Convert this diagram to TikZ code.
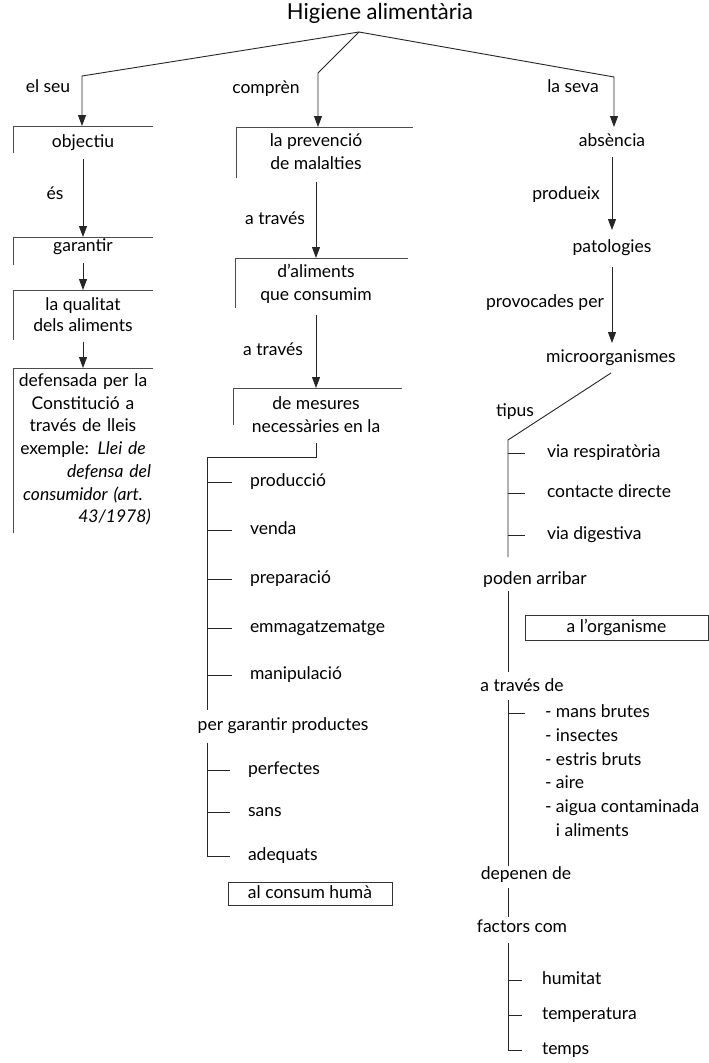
\documentclass[tikz,border=0pt]{standalone}
\usepackage{fontspec}
\setmainfont{Lato}
\usetikzlibrary{arrows.meta}
\newcommand{\firstln}{\rule{0pt}{13pt}}
\begin{document}
\begin{tikzpicture}[x=1pt,y=-1pt,
  every node/.style={inner sep=0pt, outer sep=0pt, font=\fontsize{17.5}{22.7}\selectfont},
  lbl/.style={anchor=center, text height=12.5pt, text depth=3.5pt},
  ml/.style={anchor=north, align=center},
  ln/.style={draw=black!85, line width=0.9pt},
  side/.style={draw=black!70, line width=0.8pt},
  arr/.style={ln, -{Triangle[length=11pt,width=8pt]}},
]
\useasboundingbox[fill=white] (0,0) rectangle (709,1063);

% ---------- title and main branches ----------
\node[lbl, font=\fontsize{22}{26}\selectfont] (title) at (380,15) {Higiene alimentària};
\coordinate (apex) at (359,32);
\coordinate (cL) at (82,76);
\coordinate (cM) at (318,73);
\coordinate (cR) at (614,77);
\node[lbl] (elseu) at (48,88) {el seu};
\node[lbl] (compren) at (266,89) {comprèn};
\node[lbl] (laseva) at (573,88) {la seva};

% ---------- left column ----------
\coordinate (objTop) at (82,126);
\draw[arr] (apex) -- (cL) -- (objTop);
\draw[side] (13,153) -- (13,126) -- (153,126);
\node[lbl] (objectiu) at (83,143) {objectiu};

\node[lbl] (es) at (55,195) {és};
\coordinate (garTop) at (83,237);
\draw[arr, shorten <=8pt] (objectiu.south) -- (garTop);
\draw[side] (13,265) -- (13,237) -- (153,237);
\node[lbl] (garantir) at (83,247) {garantir};

\coordinate (qualTop) at (83,290);
\draw[arr, shorten <=8pt] (garantir.south) -- (qualTop);
\draw[side] (13,340) -- (13,290) -- (153,290);
\node[ml, font=\fontsize{17.5}{21}\selectfont] (qualitat) at (83,297.5) {\firstln la qualitat\\dels aliments};

\coordinate (defTop) at (83,368);
\draw[arr, shorten <=10pt] (qualitat.south) -- (defTop);
\draw[side] (13,533) -- (13,368) -- (153,368);
\node[ml, text width=136pt] (defensada) at (83,373.5)
  {\firstln defensada per la\\
   Constitució a\\
   través de lleis\\
   exemple: \textit{Llei de}\\
   \hspace*{\fill}\textit{defensa del}\\
   \textit{consumidor (art.}\\
   \hspace*{\fill}\textit{43/1978)}};

% ---------- middle column ----------
\coordinate (prevTop) at (318,127);
\draw[arr] (apex) -- (cM) -- (prevTop);
\draw[side] (236,178) -- (236,127) -- (413,127);
\node[ml] (prevencio) at (316,133.5) {\firstln la prevenció\\de malalties};

\node[lbl] (atraves1) at (275,220) {a través};
\coordinate (aliTop) at (316,258);
\draw[arr, shorten <=13pt] (prevencio.south) -- (aliTop);
\draw[side] (235,308) -- (235,258) -- (408,258);
\node[ml] (aliments) at (316,264.5) {\firstln d’aliments\\que consumim};

\node[lbl] (atraves2) at (273,351) {a través};
\coordinate (mesTop) at (316,388);
\draw[arr, shorten <=11pt] (aliments.south) -- (mesTop);
\draw[side] (233,425) -- (233,388) -- (402,388);
\node[ml] (mesures) at (316,396.5) {\firstln de mesures\\necessàries en la};

\coordinate (bM) at (207,457);
\node[lbl] (pergarantir) at (283,726) {per garantir productes};
\draw[ln, shorten <=11pt, shorten >=8pt] (mesures.south) -- (mesures.south |- bM) -- (bM) -- (bM |- pergarantir.north);

\node[lbl, anchor=west] (produccio) at (250,482) {producció};
\node[lbl, anchor=west] (venda) at (250,530) {venda};
\node[lbl, anchor=west] (preparacio) at (250,579) {preparació};
\node[lbl, anchor=west] (emmag) at (250,628) {emmagatzematge};
\node[lbl, anchor=west] (manip) at (250,675) {manipulació};
\foreach \n in {produccio,venda,preparacio,emmag,manip}
  \draw[ln, shorten >=18pt] (bM |- \n.west) -- (\n.west);

\node[lbl, anchor=west] (perfectes) at (248,770) {perfectes};
\node[lbl, anchor=west] (sans) at (248,812) {sans};
\node[lbl, anchor=west] (adequats) at (248,856) {adequats};
\draw[ln, shorten <=9pt, shorten >=18pt] (bM |- pergarantir.south) -- (bM |- adequats.west) -- (adequats.west);
\foreach \n in {perfectes,sans}
  \draw[ln, shorten >=18pt] (bM |- \n.west) -- (\n.west);

\node[lbl, draw=black!80, line width=0.8pt, inner xsep=20pt, inner ysep=3.5pt] (consum) at (310,893.5) {al consum humà};

% ---------- right column ----------
\coordinate (absTop) at (614,127);
\draw[arr] (apex) -- (cR) -- (absTop);
\node[lbl] (absencia) at (612,142) {absència};
\node[lbl] (produeix) at (566,195) {produeix};
\node[lbl] (patologies) at (612,248) {patologies};
\draw[arr, shorten <=7pt, shorten >=10pt] (absencia.south) -- (patologies.north);
\node[lbl] (provocades) at (545,303) {provocades per};
\node[lbl] (micro) at (611,358) {microorganismes};
\draw[arr, shorten <=11pt, shorten >=7pt] (patologies.south) -- (patologies.south |- micro.north);

\coordinate (bR) at (508,440);
\node[lbl] (tipus) at (515,412) {tipus};
\node[lbl] (poden) at (535,580) {poden arribar};
\draw[ln, shorten >=15pt] ([yshift=-7pt]micro.south) -- (bR) -- (bR |- poden.north);

\node[lbl, anchor=west] (viaresp) at (547,453) {via respiratòria};
\node[lbl, anchor=west] (contacte) at (547,493) {contacte directe};
\node[lbl, anchor=west] (viadig) at (547,535) {via digestiva};
\foreach \n in {viaresp,contacte,viadig}
  \draw[ln, shorten >=22pt] (bR |- \n.west) -- (\n.west);

\node[lbl, draw=black!80, line width=0.8pt, minimum width=183pt, minimum height=25pt] (organisme) at (616.5,627.5) {a l’organisme};

\node[lbl] (atravesde) at (522,687) {a través de};
\draw[ln, shorten <=3pt, shorten >=7pt] (bR |- poden.south) -- (bR |- atravesde.north);

\node[ml, anchor=north west, align=left, font=\fontsize{17.5}{23.8}\selectfont] (lista) at (545,704.5)
  {\firstln - mans brutes\\- insectes\\- estris bruts\\- aire\\- aigua contaminada\\\phantom{- }i aliments};
\coordinate (lst1) at ([yshift=-8.5pt]lista.north west);
\draw[ln, shorten >=20pt] (bR |- lst1) -- (lst1);

\node[lbl] (depenen) at (526,875) {depenen de};
\draw[ln, shorten <=5pt, shorten >=1pt] (bR |- atravesde.south) -- (bR |- depenen.north);
\node[lbl] (factors) at (522,928) {factors com};
\draw[ln, shorten <=5pt, shorten >=3pt] (bR |- depenen.south) -- (bR |- factors.north);

\node[lbl, anchor=west] (humitat) at (542,980) {humitat};
\node[lbl, anchor=west] (temperatura) at (542,1015) {temperatura};
\node[lbl, anchor=west] (temps) at (542,1050) {temps};
\draw[ln, shorten <=7pt, shorten >=20pt] (bR |- factors.south) -- (bR |- temps.west) -- (temps.west);
\foreach \n in {humitat,temperatura}
  \draw[ln, shorten >=20pt] (bR |- \n.west) -- (\n.west);
\end{tikzpicture}
\end{document}
